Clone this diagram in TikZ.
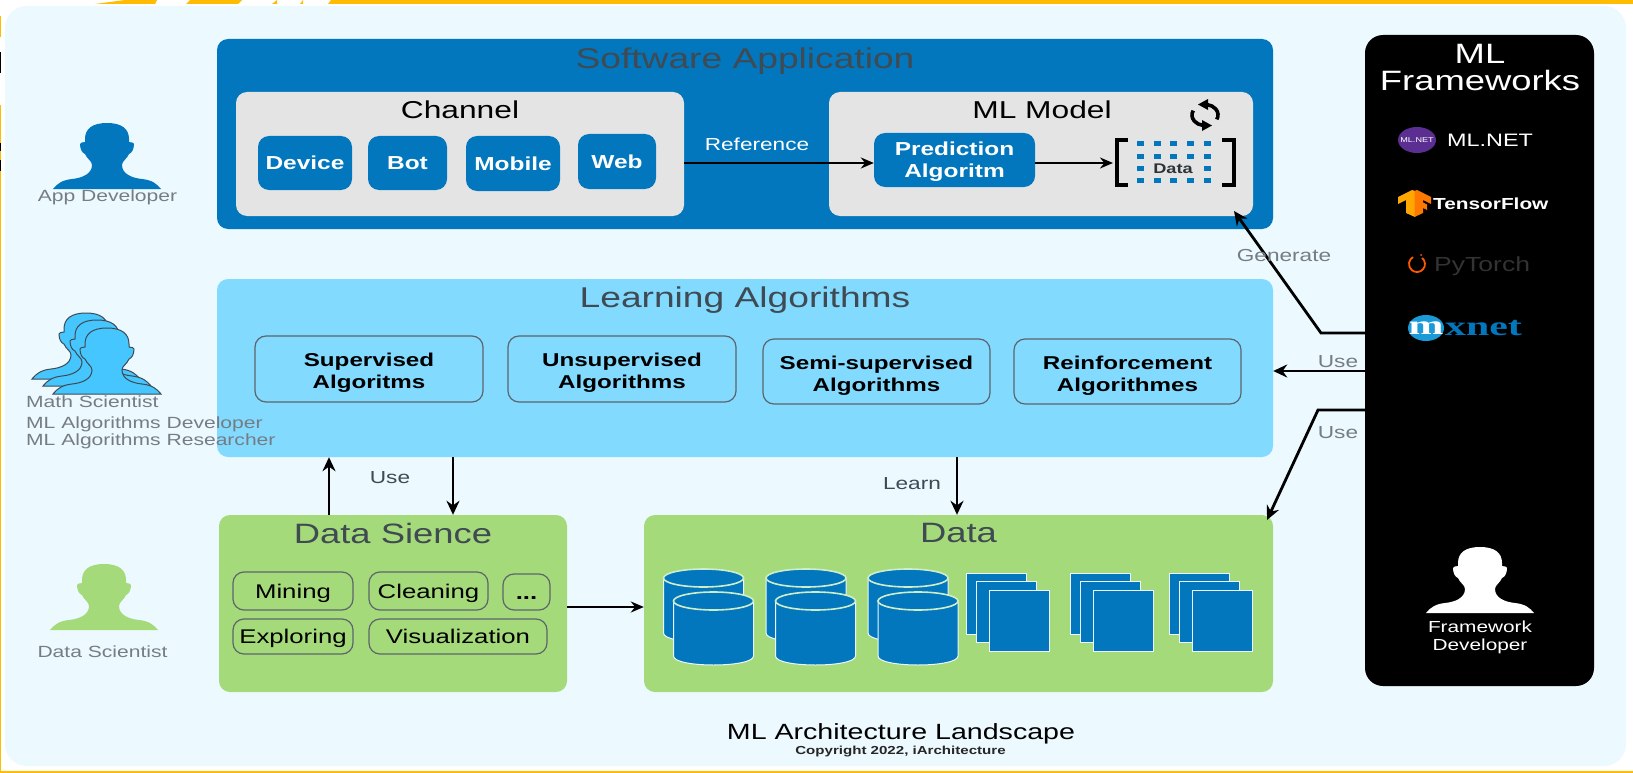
\documentclass[tikz,border=0pt]{standalone}
\usepackage{fontspec}
\setmainfont[FakeStretch=1.3]{Liberation Sans}
\newfontfamily\mxfont[FakeStretch=1.55]{Liberation Serif}
\usepackage{xcolor}
\usetikzlibrary{arrows.meta}

\definecolor{edgeyellow}{HTML}{FFBC00}
\definecolor{pagetint}{HTML}{ECF9FF}
\definecolor{mlblue}{HTML}{0277BD}
\definecolor{boxgrey}{HTML}{E4E4E4}
\definecolor{algblue}{HTML}{82DAFF}
\definecolor{mathblue}{HTML}{45C6FF}
\definecolor{dsgreen}{HTML}{A5DA7A}
\definecolor{titlegrey}{HTML}{3F4A52}
\definecolor{labelgrey}{HTML}{767C84}
\definecolor{dotnetpurple}{HTML}{5B2E91}
\definecolor{mxblue}{HTML}{1A9AD6}

\tikzset{
    area/.style={rounded corners=11pt, inner sep=0pt},
    chip/.style={fill=mlblue, text=white, rounded corners=11pt, inner sep=0pt, align=center,
        font=\fontsize{18.8}{22}\selectfont\bfseries},
    algbox/.style={draw=titlegrey!85, line width=1.2pt, rounded corners=11pt, inner sep=0pt, align=center,
        text height=39pt, text depth=0pt, font=\fontsize{18.6}{22}\selectfont\bfseries},
    dsbox/.style={draw=titlegrey!85, line width=1.2pt, rounded corners=11pt, inner sep=0pt,
        text height=14pt, text depth=0pt, font=\fontsize{19.8}{22}\selectfont},
    bigtitle/.style={text=titlegrey, font=\fontsize{28.6}{30}\selectfont},
    areatitle/.style={text=titlegrey, font=\fontsize{28}{30}\selectfont},
    subtitle/.style={text=black, font=\fontsize{24.4}{26}\selectfont},
    role/.style={text=labelgrey, font=\fontsize{16.2}{18}\selectfont},
    wirelabel/.style={font=\fontsize{17.4}{19}\selectfont},
    wire/.style={draw=black, line width=2pt, -{Stealth[length=13pt,width=11pt]}},
    heavywire/.style={draw=black, line width=2.8pt, -{Stealth[length=14pt,width=13pt]}},
    docpage/.style={fill=mlblue, draw=pagetint, line width=1pt, minimum width=60pt, minimum height=61pt},
    personicon/.pic={
        \path[pic actions] (0,-66) .. controls (15,-66) and (22,-60) .. (22,-50) -- (22,-47)
            .. controls (25,-47) and (27,-46) .. (27,-45) .. controls (27,-40) and (25,-36) .. (22,-35)
            .. controls (20,-30) and (15,-28) .. (15,-24) .. controls (15,-15) and (25,-11) .. (35,-10)
            .. controls (45,-9) and (50,-5) .. (54,0) -- (-54,0)
            .. controls (-50,-5) and (-45,-9) .. (-35,-10) .. controls (-25,-11) and (-15,-15) .. (-15,-24)
            .. controls (-15,-28) and (-20,-30) .. (-22,-35) .. controls (-25,-36) and (-27,-40) .. (-27,-45)
            .. controls (-27,-46) and (-25,-47) .. (-22,-47) -- (-22,-50)
            .. controls (-22,-60) and (-15,-66) .. (0,-66) -- cycle;
    },
    dbcyl/.pic={
        \filldraw[fill=mlblue, draw=pagetint, line width=1pt] (-40,0) -- (-40,55)
            .. controls (-40,67) and (40,67) .. (40,55) -- (40,0) -- cycle;
        \filldraw[fill=mlblue, draw=pagetint!60!dsgreen, line width=1.6pt] (0,0) ellipse (40 and 9);
    }
}

\begin{document}
\begin{tikzpicture}[x=1pt, y=-1pt]
    \useasboundingbox (0,0) rectangle (1633,773);

    % page edge
    \fill[white] (0,0) rectangle (1633,773);
    \fill[edgeyellow] (95,4) -- (125,0) -- (157,0) -- (155,4) -- cycle;
    \fill[edgeyellow] (186,4) -- (190,0) -- (242,0) -- (238,4) -- cycle;
    \fill[edgeyellow] (272,4) -- (277,0) -- (277,4) -- cycle;
    \fill[edgeyellow] (300,4) -- (303,0) -- (303,4) -- cycle;
    \fill[edgeyellow] (328,4) -- (331,0) -- (1633,0) -- (1633,4) -- cycle;
    \fill[edgeyellow] (0,16) rectangle (1.2,37);
    \fill[black] (0,52) rectangle (1.2,73);
    \fill[edgeyellow] (0,105) rectangle (1.2,143);
    \fill[black] (0,143) rectangle (1.2,151);
    \fill[edgeyellow] (0,151) rectangle (1.2,160);
    \fill[black] (0,160) rectangle (1.2,171);
    \fill[edgeyellow] (0,171) rectangle (1.2,773);
    \fill[edgeyellow] (0,771) rectangle (1633,773);

    \node[fill=pagetint, rounded corners=22pt, minimum width=1621pt, minimum height=760pt, inner sep=0pt] (page) at (815.5,386) {};

    % software application
    \node[area, fill=mlblue, minimum width=1056pt, minimum height=190pt] (swapp) at (745,134) {};
    \node[bigtitle] (swtitle) at (745,61) {Software Application};
    \node[area, fill=boxgrey, minimum width=448pt, minimum height=124pt] (channel) at (460,154) {};
    \node[subtitle] (chtitle) at (460,110) {Channel};
    \node[chip, minimum width=94pt, minimum height=54pt] (device) at (305,163) {Device};
    \node[chip, minimum width=79pt, minimum height=54pt] (bot) at (407.5,163) {Bot};
    \node[chip, minimum width=94pt, minimum height=55pt] (mobile) at (513,163.5) {Mobile};
    \node[chip, minimum width=78pt, minimum height=55pt] (web) at (617,161.5) {Web};

    \node[area, fill=boxgrey, minimum width=424pt, minimum height=124pt] (mlmodel) at (1041,154) {};
    \node[subtitle] (mltitle) at (1042,110) {ML Model};
    \node[chip, text depth=0pt, minimum width=161pt, minimum height=54pt] (predict) at (954.5,160) {Prediction\\Algoritm};

    % refresh mark
    \draw[line width=3.6pt] (1216.8,119.4) arc (25:-80:13 and 10.5);
    \draw[line width=3.6pt] (1193.2,110.6) arc (205:100:13 and 10.5);
    \fill[black] (1208,99) -- (1208,110) -- (1198,104.5) -- cycle;
    \fill[black] (1202,120) -- (1202,131) -- (1212,125.5) -- cycle;

    % data matrix
    \draw[line width=4pt] (1128,140) -- (1116.5,140) -- (1116.5,185) -- (1128,185);
    \draw[line width=4pt] (1222,140) -- (1234,140) -- (1234,185) -- (1222,185);
    \fill[mlblue] (1136.5,141.5) rectangle (1143.5,146.5);
    \fill[mlblue] (1153.5,141.5) rectangle (1160.5,146.5);
    \fill[mlblue] (1169.5,141.5) rectangle (1176.5,146.5);
    \fill[mlblue] (1186.5,141.5) rectangle (1193.5,146.5);
    \fill[mlblue] (1203.5,141.5) rectangle (1210.5,146.5);
    \fill[mlblue] (1136.5,154.5) rectangle (1143.5,159.5);
    \fill[mlblue] (1153.5,154.5) rectangle (1160.5,159.5);
    \fill[mlblue] (1169.5,154.5) rectangle (1176.5,159.5);
    \fill[mlblue] (1186.5,154.5) rectangle (1193.5,159.5);
    \fill[mlblue] (1203.5,154.5) rectangle (1210.5,159.5);
    \fill[mlblue] (1136.5,165.5) rectangle (1143.5,170.5);
    \fill[mlblue] (1203.5,165.5) rectangle (1210.5,170.5);
    \fill[mlblue] (1136.5,177.5) rectangle (1143.5,182.5);
    \fill[mlblue] (1153.5,177.5) rectangle (1160.5,182.5);
    \fill[mlblue] (1169.5,177.5) rectangle (1176.5,182.5);
    \fill[mlblue] (1186.5,177.5) rectangle (1193.5,182.5);
    \fill[mlblue] (1203.5,177.5) rectangle (1210.5,182.5);
    \node[font=\fontsize{14}{16}\selectfont\bfseries, text=titlegrey!70!black] (matrixtext) at (1173,169) {Data};
    \coordinate (matrixin) at (1113,163);

    % learning algorithms
    \node[area, fill=algblue, minimum width=1056pt, minimum height=178pt] (learning) at (745,368) {};
    \node[bigtitle] (lrtitle) at (745,300) {Learning Algorithms};
    \node[algbox, minimum width=228pt, minimum height=66pt] (superv) at (369,369) {Supervised\\Algoritms};
    \node[algbox, minimum width=228pt, minimum height=66pt] (unsuperv) at (622,369) {Unsupervised\\Algorithms};
    \node[algbox, minimum width=227pt, minimum height=65pt] (semi) at (876.5,371.5) {Semi-supervised\\Algorithms};
    \node[algbox, minimum width=227pt, minimum height=65pt] (reinf) at (1127.5,371.5) {Reinforcement\\Algorithmes};

    % data science
    \node[area, fill=dsgreen, minimum width=348pt, minimum height=177pt] (dsci) at (393,603.5) {};
    \node[areatitle] (dstitle) at (393,533) {Data Sience};
    \node[dsbox, minimum width=120pt, minimum height=38pt] (mining) at (293,591) {Mining};
    \node[dsbox, minimum width=119pt, minimum height=38pt] (cleaning) at (428.5,591) {Cleaning};
    \node[dsbox, minimum width=47pt, minimum height=36pt] (more) at (526.5,592) {\textbf{...}};
    \node[dsbox, minimum width=120pt, minimum height=35pt] (exploring) at (293,636.5) {Exploring};
    \node[dsbox, minimum width=178pt, minimum height=35pt] (visual) at (458,636.5) {Visualization};

    % data
    \node[area, fill=dsgreen, minimum width=629pt, minimum height=177pt] (data) at (958.5,603.5) {};
    \node[areatitle] (datatitle) at (958.5,533) {Data};
    \pic at (703.5,578) {dbcyl};
    \pic at (806,578) {dbcyl};
    \pic at (908,578) {dbcyl};
    \pic at (713.5,601) {dbcyl};
    \pic at (815.5,601) {dbcyl};
    \pic at (918,601) {dbcyl};
    \node[docpage] (doca1) at (996,603.5) {};
    \node[docpage] (doca2) at (1006,611.5) {};
    \node[docpage] (doca3) at (1019,620.5) {};
    \node[docpage] (docb1) at (1100,603.5) {};
    \node[docpage] (docb2) at (1110,611.5) {};
    \node[docpage] (docb3) at (1123.5,620.5) {};
    \node[docpage] (docc1) at (1199,603.5) {};
    \node[docpage] (docc2) at (1209,611.5) {};
    \node[docpage] (docc3) at (1222,620.5) {};

    % frameworks
    \node[fill=black, rounded corners=18pt, minimum width=229pt, minimum height=651pt, inner sep=0pt] (frameworks) at (1479.5,360.5) {};
    \node[text=white, align=center, font=\fontsize{28}{27}\selectfont] (fwtitle) at (1480,68) {ML\\Frameworks};

    \fill[dotnetpurple] (1417,140) ellipse (19 and 13);
    \node[text=white, font=\fontsize{7}{8}\selectfont] (dotnetmark) at (1417,140) {ML.NET};
    \node[text=white, font=\fontsize{18}{20}\selectfont, anchor=west, inner sep=0pt] (dotnet) at (1447,140) {ML.NET};

    \fill[orange!70!yellow] (1398,197) -- (1412,190) -- (1415,191) -- (1415,217) -- (1406,213) -- (1406,200) -- (1398,204) -- cycle;
    \fill[orange!95!red] (1431,197) -- (1417,190) -- (1414.5,191) -- (1414.5,217) -- (1423,213) -- (1423,208) -- (1427,210) -- (1427,204.5) -- (1423,202.5) -- (1423,200) -- (1431,204) -- cycle;
    \node[text=white, font=\fontsize{16}{18}\selectfont\bfseries, anchor=west, inner sep=0pt] (tflow) at (1433,204) {TensorFlow};

    \draw[line width=1.8pt, orange!70!red] (1422.1,257.9) arc (-50:240:8);
    \fill[orange!70!red] (1421,255) circle (1pt);
    \node[text=black!80!white, font=\fontsize{20.4}{22}\selectfont, anchor=west, inner sep=0pt] (pytorch) at (1434,266) {PyTorch};

    \fill[mxblue] (1426,328) ellipse (18 and 13);
    \node[text=white, font=\mxfont\fontsize{27}{28}\selectfont\bfseries, inner sep=0pt] (mxm) at (1426,328) {m};
    \node[text=mlblue, font=\mxfont\fontsize{27}{28}\selectfont\bfseries, anchor=west, inner sep=0pt] (mxnet) at (1445,328) {xnet};

    \pic[fill=white] at (1480,613) {personicon};
    \node[text=white, align=center, font=\fontsize{16}{18}\selectfont] (fwdev) at (1480,637) {Framework\\Developer};

    % roles
    \pic[fill=mlblue] at (107,189) {personicon};
    \node[role] (appdev) at (107.5,197) {App Developer};
    \pic[fill=mathblue, draw=titlegrey, line width=1pt] at (86,379) {personicon};
    \pic[fill=mathblue, draw=titlegrey, line width=1pt] at (97,386) {personicon};
    \pic[fill=mathblue, draw=titlegrey, line width=1pt] at (107,394) {personicon};
    \node[role, anchor=west, inner sep=0pt] (mathsci) at (26,402) {Math Scientist};
    \node[role, anchor=west, inner sep=0pt] (algdev) at (26,424) {ML Algorithms Developer};
    \node[role, anchor=west, inner sep=0pt] (algres) at (26,441) {ML Algorithms Researcher};
    \pic[fill=dsgreen] at (104,630) {personicon};
    \node[role] (datasci) at (102.5,652) {Data Scientist};

    % connectors
    \coordinate (refy) at (0,163);
    \coordinate (dsup) at (329,0);
    \coordinate (dsdown) at (453,0);
    \coordinate (lrdown) at (957,0);
    \coordinate (dsflow) at (0,607);
    \coordinate (genbend) at (1321,333);
    \coordinate (gentip) at (1234,211);
    \coordinate (usey) at (0,371);
    \coordinate (usebend) at (1318,410);
    \coordinate (usetip) at (1267,520);

    \draw[wire] (channel.east |- refy) -- (predict.west |- refy);
    \draw[wire] (predict.east |- refy) -- (matrixin);
    \draw[heavywire] (dsci.north -| dsup) -- (learning.south -| dsup);
    \draw[heavywire] (learning.south -| dsdown) -- (dsci.north -| dsdown);
    \draw[heavywire] (learning.south -| lrdown) -- (data.north -| lrdown);
    \draw[wire] (dsci.east |- dsflow) -- (data.west |- dsflow);
    \draw[heavywire] (frameworks.west |- genbend) -- (genbend) -- (gentip);
    \draw[heavywire] (frameworks.west |- usey) -- (learning.east |- usey);
    \draw[heavywire] (frameworks.west |- usebend) -- (usebend) -- (usetip);

    \node[wirelabel, text=white] (reflabel) at (757,144) {Reference};
    \node[wirelabel, text=labelgrey] (genlabel) at (1284,256) {Generate};
    \node[wirelabel, text=labelgrey] (uselabela) at (1338,362) {Use};
    \node[wirelabel, text=labelgrey] (uselabelb) at (1338,433) {Use};
    \node[wirelabel, text=titlegrey] (uselabelc) at (390,478) {Use};
    \node[wirelabel, text=titlegrey] (learnlabel) at (912,484) {Learn};

    % footer
    \node[text=black, font=\fontsize{22}{24}\selectfont] (footer) at (901,734) {ML Architecture Landscape};
    \node[text=black!85!white, font=\fontsize{11.6}{14}\selectfont\bfseries] (copyright) at (900.5,752) {Copyright 2022, iArchitecture};
\end{tikzpicture}
\end{document}
